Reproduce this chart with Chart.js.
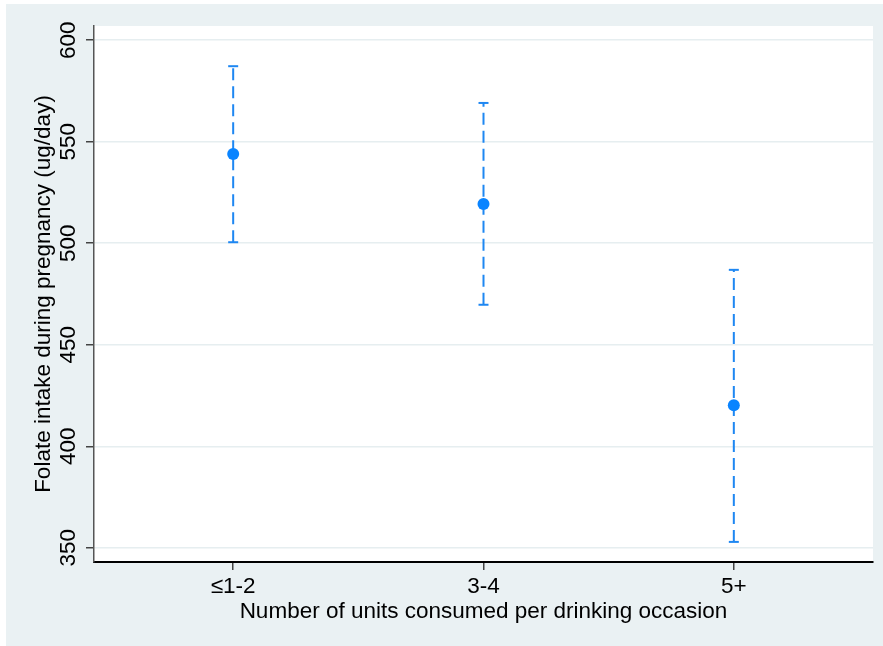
<!DOCTYPE html>
<html>
<head>
<meta charset="utf-8">
<script src="https://cdn.jsdelivr.net/npm/chart.js@4/dist/chart.umd.min.js"></script>
<style>
    html, body { margin: 0; padding: 0; background: #fff; }
    #chart { position: absolute; left: 6px; top: 4px; background: #EAF1F3; }
</style>
</head>
<body>
<canvas id="chart" width="877" height="642"></canvas>
<script>
const categories = ['≤1-2', '3-4', '5+'];
const means = [544, 519.3, 420.2];
const lower = [500.5, 469.7, 352.9];
const upper = [587.2, 569.1, 486.9];
const yTicks = [350, 400, 450, 500, 550, 600];

const barColor = '#1E87F2';
const dotColor = '#0A84FF';

// plot area background (white inside the axes)
const plotBg = {
    id: 'plotBg',
    beforeDraw(chart) {
        const a = chart.chartArea;
        const ctx = chart.ctx;
        ctx.save();
        ctx.fillStyle = '#fff';
        ctx.fillRect(a.left, a.top, a.right - a.left, a.bottom - a.top);
        ctx.restore();
    }
};

const datasets = categories.map((c, i) => ({
    type: 'line',
    data: [{ x: i + 1, y: lower[i] }, { x: i + 1, y: upper[i] }],
    borderColor: barColor,
    borderWidth: 2,
    borderDash: [12, 6],
    pointStyle: 'line',
    pointRadius: 5,
    pointBorderColor: barColor,
    pointBorderWidth: 2,
    order: 1
}));

datasets.push({
    type: 'scatter',
    data: means.map((v, i) => ({ x: i + 1, y: v })),
    backgroundColor: dotColor,
    borderWidth: 0,
    pointRadius: 6,
    order: 0
});

Chart.defaults.font.family = '"Liberation Sans", Arial, Helvetica, sans-serif';
Chart.defaults.color = '#000';

new Chart(document.getElementById('chart').getContext('2d'), {
    data: { datasets },
    options: {
        responsive: false,
        animation: false,
        layout: { padding: { top: 22, right: 10, left: 0, bottom: 0 } },
        plugins: { legend: { display: false }, tooltip: { enabled: false } },
        scales: {
            x: {
                type: 'linear',
                min: 0.444,
                max: 3.556,
                afterBuildTicks: s => { s.ticks = categories.map((c, i) => ({ value: i + 1 })); },
                afterFit: s => { s.height = 84; },
                ticks: {
                    callback: v => categories[v - 1],
                    font: { size: 22.5 },
                    padding: 3,
                    maxRotation: 0
                },
                grid: { drawOnChartArea: false, tickColor: '#444', tickLength: 8, lineWidth: 1.5 },
                border: { display: true, color: '#000', width: 2 },
                title: {
                    display: true,
                    text: 'Number of units consumed per drinking occasion',
                    font: { size: 22.5 },
                    padding: { top: 0, bottom: 21 }
                }
            },
            y: {
                min: 343,
                max: 607,
                afterBuildTicks: s => { s.ticks = yTicks.map(v => ({ value: v })); },
                afterFit: s => { s.width = 88; },
                ticks: {
                    font: { size: 22.5 },
                    minRotation: 90,
                    maxRotation: 90,
                    crossAlign: 'center',
                    padding: -2
                },
                grid: { color: '#E6EEF0', lineWidth: 1.5, tickColor: '#444', tickLength: 8 },
                border: { display: true, color: '#555', width: 1.5 },
                title: {
                    display: true,
                    text: 'Folate intake during pregnancy (ug/day)',
                    font: { size: 22.5 },
                    padding: { top: 24, bottom: 0 }
                }
            }
        }
    },
    plugins: [plotBg]
});
</script>
</body>
</html>
